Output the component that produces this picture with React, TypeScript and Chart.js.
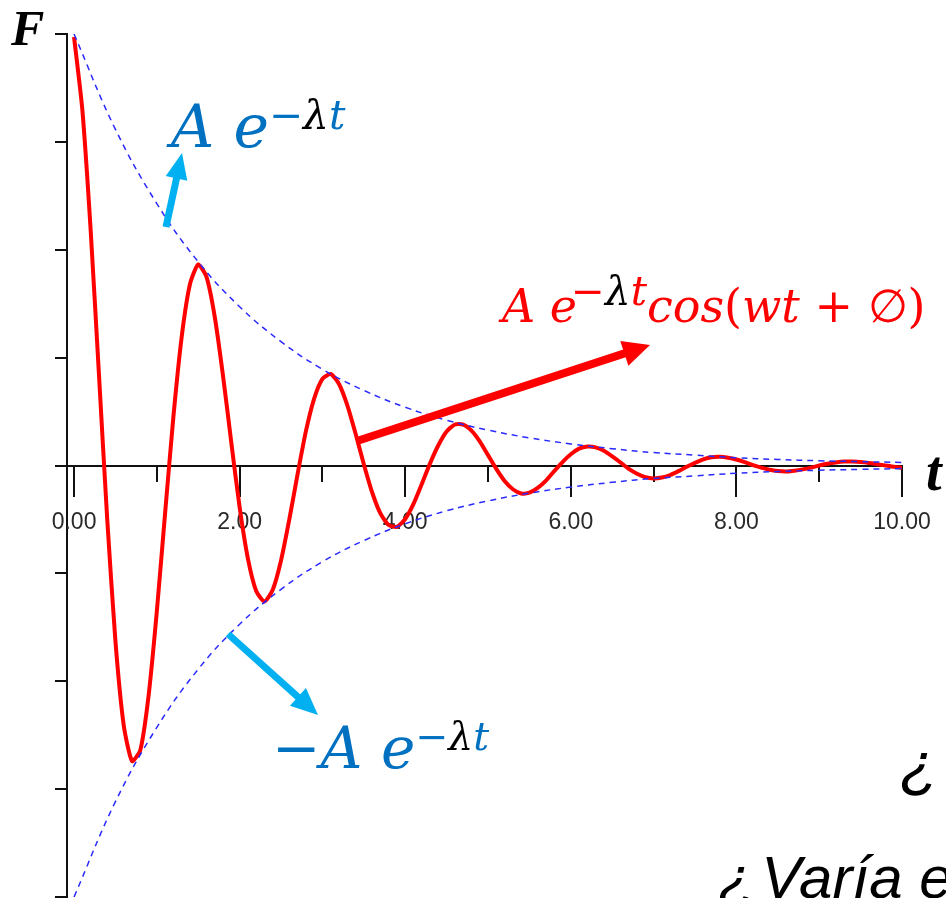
import React, { useEffect, useRef } from "react";
import { Chart, registerables } from "chart.js";

Chart.register(...registerables);

// ---- data ----
const T_STEP = 0.1; // sampling step of the red curve (t units)
const forceValues = [
  0.993, 0.825, 0.548, 0.214, -0.122, -0.407, -0.602, -0.685, -0.66, -0.534,
  -0.338, -0.11, 0.113, 0.298, 0.42, 0.466, 0.437, 0.344, 0.207, 0.052,
  -0.097, -0.216, -0.291, -0.315, -0.288, -0.22, -0.125, -0.02, 0.079, 0.155,
  0.201, 0.212, 0.189, 0.14, 0.074, 0.003, -0.062, -0.111, -0.138, -0.142,
  -0.124, -0.089, -0.043, 0.005, 0.047, 0.079, 0.095, 0.095, 0.081, 0.056,
  0.024, -0.008, -0.036, -0.055, -0.065, -0.063, -0.052, -0.035, -0.013, 0.008,
  0.026, 0.039, 0.044, 0.042, 0.034, 0.021, 0.007, -0.008, -0.019, -0.027,
  -0.03, -0.028, -0.022, -0.013, -0.003, 0.006, 0.014, 0.019, 0.02, 0.018,
  0.014, 0.008, 0.001, -0.005, -0.01, -0.013, -0.014, -0.012, -0.009, -0.005,
  0.0, 0.004, 0.007, 0.009, 0.009, 0.008, 0.006, 0.003, 0.0, -0.003,
  -0.005,
];

const ENV_STEP = 0.5; // sampling step of the envelope
const envelopeValues = [
  1, 0.779, 0.607, 0.472, 0.368, 0.287, 0.223, 0.174, 0.135, 0.105, 0.082,
  0.064, 0.05, 0.039, 0.03, 0.024, 0.018, 0.014, 0.011, 0.009, 0.007,
];

const xTickValues = [0, 2, 4, 6, 8, 10];
const xTickLabels = ["0.00", "2.00", "4.00", "6.00", "8.00", "10.00"];
const xMinorTickValues = [0, 1, 2, 3, 4, 5, 6, 7, 8, 9, 10];
const yTickValues = [-1, -0.75, -0.5, -0.25, 0, 0.25, 0.5, 0.75, 1];

const X_MIN = -0.085;
const X_MAX = 10;

// ---- annotation arrows (pixel positions on the canvas) ----
const arrows = [
  { x1: 166, y1: 227, x2: 182, y2: 153, color: "#00B0F0", shaft: 7, headLen: 26, headW: 22 },
  { x1: 357, y1: 441, x2: 650, y2: 345, color: "#FF0000", shaft: 8, headLen: 27, headW: 26 },
  { x1: 228, y1: 634, x2: 318, y2: 715, color: "#00B0F0", shaft: 7, headLen: 27, headW: 24 },
];

const arrowPlugin = {
  id: "arrows",
  afterDraw(chart: any) {
    const ctx = chart.ctx as CanvasRenderingContext2D;
    ctx.save();
    for (const a of arrows) {
      const ang = Math.atan2(a.y2 - a.y1, a.x2 - a.x1);
      const c = Math.cos(ang), s = Math.sin(ang);
      const bx = a.x2 - a.headLen * c;
      const by = a.y2 - a.headLen * s;
      ctx.strokeStyle = a.color;
      ctx.fillStyle = a.color;
      ctx.lineWidth = a.shaft;
      ctx.lineCap = "butt";
      ctx.beginPath();
      ctx.moveTo(a.x1, a.y1);
      ctx.lineTo(bx + c, by + s);
      ctx.stroke();
      ctx.beginPath();
      ctx.moveTo(a.x2, a.y2);
      ctx.lineTo(bx - (a.headW / 2) * s, by + (a.headW / 2) * c);
      ctx.lineTo(bx + (a.headW / 2) * s, by - (a.headW / 2) * c);
      ctx.closePath();
      ctx.fill();
    }
    ctx.restore();
  },
};

const AXIS = "#111111";

export default function App() {
  const ref = useRef<HTMLCanvasElement | null>(null);

  useEffect(() => {
    if (!ref.current) return;
    const force = forceValues.map((v, i) => ({ x: +(i * T_STEP).toFixed(2), y: v }));
    const upper = envelopeValues.map((v, i) => ({ x: i * ENV_STEP, y: v }));
    const lower = envelopeValues.map((v, i) => ({ x: i * ENV_STEP, y: -v }));

    const dashed = {
      borderColor: "#2a2aff",
      borderWidth: 1.5,
      borderDash: [6, 5],
      pointRadius: 0,
      tension: 0.4,
      order: 0,
      xAxisID: "x",
      yAxisID: "y",
    };

    const chart = new Chart(ref.current, {
      type: "line",
      data: {
        datasets: [
          { data: upper, ...dashed },
          { data: lower, ...dashed },
          {
            data: force,
            borderColor: "#ff0000",
            borderWidth: 4,
            pointRadius: 0,
            tension: 0.2,
            order: 1,
            xAxisID: "x",
            yAxisID: "y",
          },
        ],
      },
      options: {
        animation: false,
        responsive: false,
        layout: { padding: { left: 55, right: 44, top: 34, bottom: 1 } },
        plugins: { legend: { display: false }, tooltip: { enabled: false } },
        scales: {
          y: {
            type: "linear",
            position: "left",
            min: -1,
            max: 1,
            afterBuildTicks: (s: any) => {
              s.ticks = yTickValues.map((v) => ({ value: v }));
            },
            ticks: { display: false },
            grid: { drawOnChartArea: false, drawTicks: true, tickLength: 12, color: AXIS, lineWidth: 2 },
            border: { display: true, color: AXIS, width: 2 },
          },
          xMinor: {
            type: "linear",
            axis: "x",
            position: { y: 0 },
            min: X_MIN,
            max: X_MAX,
            afterBuildTicks: (s: any) => {
              s.ticks = xMinorTickValues.map((v) => ({ value: v }));
            },
            ticks: { display: false },
            grid: { drawOnChartArea: false, drawTicks: true, tickLength: 15, color: AXIS, lineWidth: 2 },
            border: { display: true, color: AXIS, width: 2 },
          },
          x: {
            type: "linear",
            position: { y: 0 },
            min: X_MIN,
            max: X_MAX,
            afterBuildTicks: (s: any) => {
              s.ticks = xTickValues.map((v) => ({ value: v }));
            },
            ticks: {
              autoSkip: false,
              maxRotation: 0,
              padding: 13,
              color: "#2a2a2a",
              font: { family: "'Liberation Sans', Arial, sans-serif", size: 23 },
              callback: (_v: any, i: number) => xTickLabels[i],
            },
            grid: { drawOnChartArea: false, drawTicks: true, tickLength: 30, color: AXIS, lineWidth: 2 },
            border: { display: true, color: AXIS, width: 2 },
          },
        },
      } as any,
      plugins: [arrowPlugin],
    });
    return () => chart.destroy();
  }, []);

  const serif = "'DejaVu Serif', serif";
  const blue = "#0070C0";
  const red = "#FF0000";
  const abs = (left: number, top: number, extra: React.CSSProperties): React.CSSProperties => ({
    position: "absolute",
    left,
    top,
    lineHeight: 1,
    whiteSpace: "nowrap",
    ...extra,
  });
  const sup: React.CSSProperties = { fontSize: "0.68em", verticalAlign: "0.45em" };
  const supRed: React.CSSProperties = { fontSize: "0.88em", verticalAlign: "0.42em", marginLeft: -6 };
  const up: React.CSSProperties = { fontStyle: "normal" };
  const sans = "'Liberation Sans', Arial, sans-serif";

  return (
    <div
      style={{
        position: "absolute",
        left: 0,
        top: 0,
        width: 946,
        height: 898,
        overflow: "hidden",
        background: "#ffffff",
      }}
    >
      <canvas ref={ref} width={946} height={898} style={{ position: "absolute", left: 0, top: 0 }} />

      <div style={abs(11, 3, { fontFamily: "'Liberation Serif', serif", fontStyle: "italic", fontWeight: "bold", fontSize: 50, color: "#000" })}>F</div>
      <div style={abs(926, 443, { fontFamily: "'Liberation Serif', serif", fontStyle: "italic", fontWeight: "bold", fontSize: 56, color: "#000" })}>t</div>

      <div style={abs(171, 95, { fontFamily: serif, fontStyle: "italic", fontSize: 60, color: blue })}>
        A e
        <span style={sup}>
          <span style={up}>−</span>
          <span style={{ color: "#000" }}>λ</span>t
        </span>
      </div>

      <div style={abs(502, 271, { fontFamily: serif, fontStyle: "italic", fontSize: 46, color: red })}>
        A e
        <span style={supRed}>
          <span style={up}>−</span>
          <span style={{ color: "#000" }}>λ</span>t
        </span>
        cos<span style={up}>(</span>wt <span style={up}>+ ∅)</span>
      </div>

      <div style={abs(272, 717, { fontFamily: serif, fontStyle: "italic", fontSize: 58, color: blue })}>
        <span style={up}>−</span>A e
        <span style={sup}>
          <span style={up}>−</span>
          <span style={{ color: "#000" }}>λ</span>t
        </span>
      </div>

      <div style={abs(900, 733, { fontFamily: sans, fontStyle: "italic", fontSize: 62, color: "#000" })}>¿</div>
      <div style={abs(718, 848, { fontFamily: sans, fontStyle: "italic", fontSize: 60, color: "#000" })}>
        <span style={{ marginRight: -10 }}>¿</span> Varía e
      </div>
    </div>
  );
}
